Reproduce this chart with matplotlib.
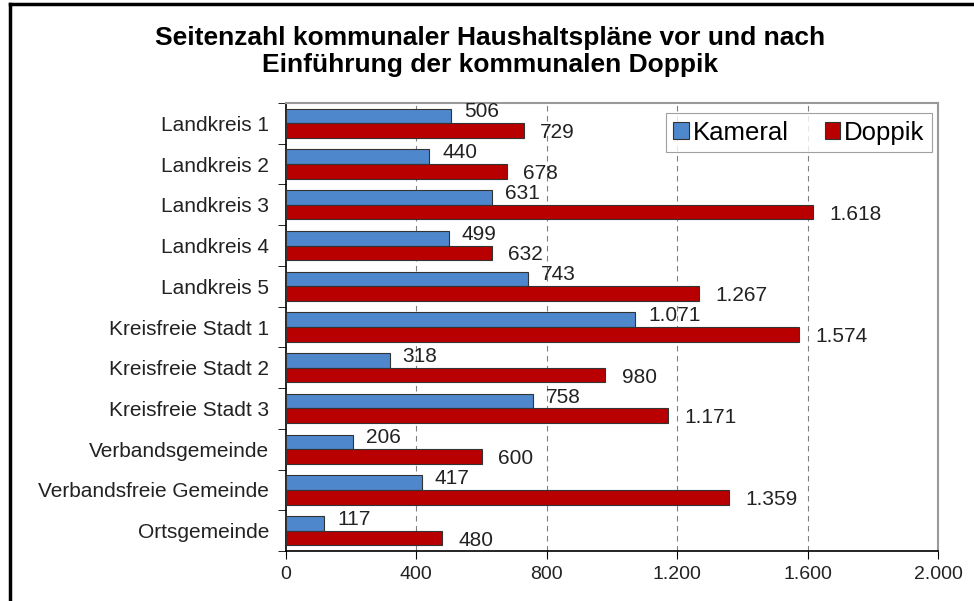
import matplotlib
matplotlib.use("Agg")
import matplotlib.pyplot as plt
from matplotlib.lines import Line2D
import numpy as np

categories = ["Landkreis 1", "Landkreis 2", "Landkreis 3", "Landkreis 4", "Landkreis 5",
              "Kreisfreie Stadt 1", "Kreisfreie Stadt 2", "Kreisfreie Stadt 3",
              "Verbandsgemeinde", "Verbandsfreie Gemeinde", "Ortsgemeinde"]
kameral = [506, 440, 631, 499, 743, 1071, 318, 758, 206, 417, 117]
doppik = [729, 678, 1618, 632, 1267, 1574, 980, 1171, 600, 1359, 480]
xticks = [0, 400, 800, 1200, 1600, 2000]
title = "Seitenzahl kommunaler Haushaltspläne vor und nach\nEinführung der kommunalen Doppik"

def fmt(v):
    return f"{v:,}".replace(",", ".")

plt.rcParams['font.family'] = ['Liberation Sans', 'DejaVu Sans']

fig = plt.figure(figsize=(9.74, 6.01), dpi=100)
ax = fig.add_axes([0.2936, 0.0832, 0.9630 - 0.2936, 0.8286 - 0.0832])

n = len(categories)
y = np.arange(n)
h = 0.36
blue = "#4F87CC"
red = "#B90000"
ax.barh(y - h / 2, kameral, height=h, color=blue, edgecolor="#333333", linewidth=0.8, label="Kameral", zorder=3)
ax.barh(y + h / 2, doppik, height=h, color=red, edgecolor="#333333", linewidth=0.8, label="Doppik", zorder=3)

for yi, v in zip(y, kameral):
    ax.text(v + 40, yi - h / 2 - 0.1, fmt(v), va="center", ha="left", fontsize=15, color="#222222", zorder=4)
for yi, v in zip(y, doppik):
    ax.text(v + 50, yi + h / 2 + 0.05, fmt(v), va="center", ha="left", fontsize=15, color="#222222", zorder=4)

ax.set_ylim(n - 0.5, -0.5)
ax.set_xlim(0, 2000)
ax.set_yticks(y)
ax.set_yticklabels(categories, fontsize=15, color="#222222")
ax.tick_params(axis="y", which="major", length=0, pad=12)
ax.set_yticks(np.arange(n + 1) - 0.5, minor=True)
ax.tick_params(axis="y", which="minor", length=6, direction="out", color="black")
ax.set_xticks(xticks)
ax.set_xticklabels([fmt(v) for v in xticks], fontsize=14, color="#222222")
ax.tick_params(axis="x", length=6, direction="out", color="black", pad=5)

for xv in xticks[1:-1]:
    ax.axvline(xv, color="#808080", linestyle=(0, (5, 4)), linewidth=0.8, zorder=1)

for s in ["top", "right"]:
    ax.spines[s].set_color("#999999")
    ax.spines[s].set_linewidth(1.5)
for s in ["left", "bottom"]:
    ax.spines[s].set_color("black")
    ax.spines[s].set_linewidth(1.2)

leg = ax.legend(loc="upper right", ncol=2, fontsize=18.5, frameon=True, fancybox=False,
                edgecolor="#888888", handlelength=0.6, handleheight=0.6, handletextpad=0.15,
                columnspacing=1.4, borderpad=0.3, borderaxespad=0.0, bbox_to_anchor=(0.991, 0.978))
leg.get_frame().set_linewidth(0.8)

fig.text(0.503, 0.915, title, ha="center", va="center", fontsize=19, fontweight="bold",
         linespacing=1.15, color="black")

fig.add_artist(Line2D([9.5 / 974, 1.0], [1 - 4 / 601, 1 - 4 / 601], transform=fig.transFigure, color="black", linewidth=2.5))
fig.add_artist(Line2D([9.5 / 974, 9.5 / 974], [0, 1 - 4 / 601], transform=fig.transFigure, color="black", linewidth=2.5))

fig.savefig("out.png", dpi=100)
